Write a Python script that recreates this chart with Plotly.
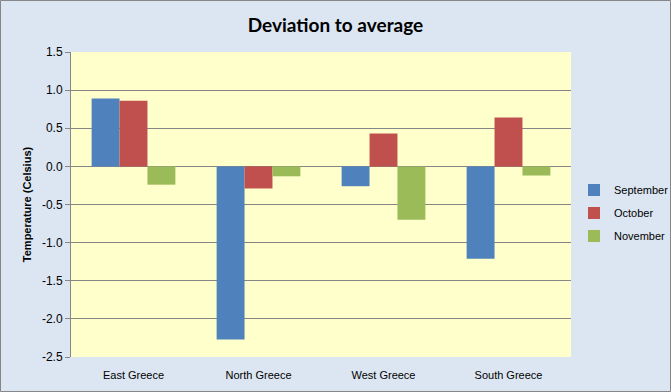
import plotly.graph_objects as go

categories = ["East Greece", "North Greece", "West Greece", "South Greece"]
september = [0.89, -2.27, -0.26, -1.21]
october = [0.86, -0.29, 0.43, 0.64]
november = [-0.24, -0.13, -0.70, -0.12]
tick_vals = [1.5, 1.0, 0.5, 0.0, -0.5, -1.0, -1.5, -2.0, -2.5]
tick_text = ["1.5", "1.0", "0.5", "0.0", "-0.5", "-1.0", "-1.5", "-2.0", "-2.5"]

series = [("September", september, "#4F81BD"),
          ("October", october, "#C0504D"),
          ("November", november, "#9BBB59")]

fig = go.Figure()
for name, vals, color in series:
    fig.add_trace(go.Bar(x=categories, y=vals, name=name, marker_color=color,
                         marker_line_width=0, legendgroup=name))

L, R, T, B = 71, 100, 52, 35
W, H = 671, 392
pw, ph = W - L - R, H - T - B

fig.update_layout(
    width=W, height=H,
    margin=dict(l=L, r=R, t=T, b=B, pad=0, autoexpand=False),
    paper_bgcolor="#DCE6F2",
    plot_bgcolor="#FFFFCC",
    barmode="group", bargap=0.33, bargroupgap=0,
    title=dict(text="<b>Deviation to average</b>", x=0.5, xanchor="center",
               y=1 - 25 / H, yanchor="middle",
               font=dict(family="Lato, Open Sans, sans-serif", size=19, color="black")),
    font=dict(family="Liberation Sans, Arial, sans-serif", size=11, color="black"),
    legend=dict(x=(574 - L) / pw, y=(H - B - 213) / ph, xanchor="left", yanchor="middle",
                bgcolor="rgba(0,0,0,0)", font=dict(size=11), tracegroupgap=4,
                itemwidth=30),
    showlegend=True,
    xaxis=dict(showgrid=False, showline=False, ticks="outside", ticklen=8,
               tickcolor="rgba(0,0,0,0)", tickfont=dict(size=11),
               fixedrange=True),
    yaxis=dict(range=[-2.5, 1.5], tickvals=tick_vals, ticktext=tick_text,
               showgrid=True, gridcolor="#868686", gridwidth=1,
               zeroline=True, zerolinecolor="#868686", zerolinewidth=1,
               showline=True, linecolor="#868686", linewidth=1,
               ticks="outside", ticklen=5, tickcolor="#868686",
               title=dict(text="<b>Temperature (Celsius)</b>", standoff=8,
                          font=dict(size=11)),
               tickfont=dict(size=12)),
    shapes=[dict(type="rect", xref="paper", yref="paper",
                 x0=(0.5 - L) / pw, x1=(W - 0.5 - L) / pw,
                 y0=(H - B - (H - 0.5)) / ph, y1=(H - B - 0.5) / ph,
                 line=dict(color="#868686", width=1), fillcolor="rgba(0,0,0,0)",
                 layer="above")],
)

fig.write_html("out.html", config={"responsive": False, "displayModeBar": False},
               post_script="document.body.style.margin='0';document.body.style.overflow='hidden';")
